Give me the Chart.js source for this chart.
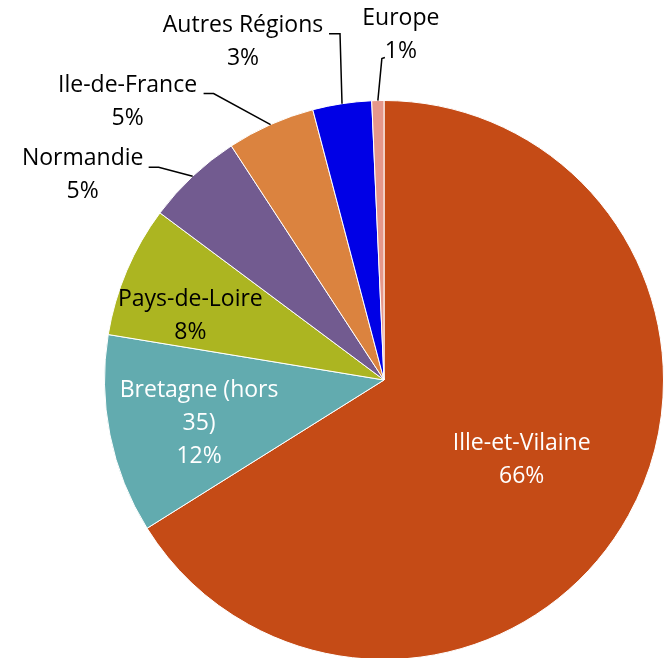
<!DOCTYPE html>
<html>
<head>
<meta charset="utf-8">
<script src="https://cdn.jsdelivr.net/npm/chart.js@4.4.0/dist/chart.umd.min.js"></script>
<style>
  html, body { margin: 0; padding: 0; background: #fff; overflow: hidden; }
  #wrap { width: 671px; height: 700px; }
</style>
</head>
<body>
<div id="wrap"><canvas id="pieChart" width="671" height="700"></canvas></div>
<script>
// data (percent of total)
const regions = ['Ille-et-Vilaine', 'Bretagne (hors 35)', 'Pays-de-Loire', 'Normandie', 'Ile-de-France', 'Autres Régions', 'Europe'];
const shares = [66.1, 11.5, 7.6, 5.6, 5.1, 3.4, 0.7];
const shownPct = ['66%', '12%', '8%', '5%', '5%', '3%', '1%'];
const labelLines = [['Ille-et-Vilaine'], ['Bretagne (hors', '35)'], ['Pays-de-Loire'], ['Normandie'], ['Ile-de-France'], ['Autres Régions'], ['Europe']];

const sliceColors = ['#C54B16', '#62ABAF', '#ACB521', '#725B90', '#DB833F', '#0000E6', '#E5978A'];

// label placement: inside = fraction of radius along mid angle (+ turn in degrees),
// outside = offsets from the arc edge (text centre, elbow, line end)
const labelStyle = [
  { inside: 0.57, turn: 1.2, color: '#fff' },
  { inside: 0.68, turn: -2, color: '#fff' },
  { inside: 0.73, turn: -4.7, color: '#000' },
  { text: [-110, -1], elbow: [-34, -9], end: [-44, -9] },
  { text: [-143, -23], elbow: [-57, -31], end: [-67, -31] },
  { text: [-99, -62], elbow: [-2, -70], end: [-13, -70] },
  { text: [23, -66], elbow: [4, -42], end: [7, -43] }
];

const FONT = '23px "Open Sans"';
const LINE_H = 33;

const pieLabels = {
  id: 'pieLabels',
  afterDatasetsDraw(chart) {
    const ctx = chart.ctx;
    const arcs = chart.getDatasetMeta(0).data;
    ctx.save();
    ctx.font = FONT;
    ctx.textAlign = 'center';
    ctx.textBaseline = 'middle';
    arcs.forEach((arc, i) => {
      const st = labelStyle[i];
      const mid = (arc.startAngle + arc.endAngle) / 2;
      const lines = labelLines[i].concat([shownPct[i]]);
      let cx, cy;
      if (st.inside) {
        const a = mid + st.turn * Math.PI / 180;
        cx = arc.x + Math.cos(a) * arc.outerRadius * st.inside;
        cy = arc.y + Math.sin(a) * arc.outerRadius * st.inside;
        ctx.fillStyle = st.color;
      } else {
        const ex = arc.x + Math.cos(mid) * arc.outerRadius;
        const ey = arc.y + Math.sin(mid) * arc.outerRadius;
        ctx.strokeStyle = '#000';
        ctx.lineWidth = 1.5;
        ctx.beginPath();
        ctx.moveTo(ex, ey);
        ctx.lineTo(ex + st.elbow[0], ey + st.elbow[1]);
        ctx.lineTo(ex + st.end[0], ey + st.end[1]);
        ctx.stroke();
        cx = ex + st.text[0];
        cy = ey + st.text[1];
        ctx.fillStyle = '#000';
      }
      const top = cy - (lines.length - 1) * LINE_H / 2;
      lines.forEach((t, k) => ctx.fillText(t, cx, top + k * LINE_H));
    });
    ctx.restore();
  }
};

new Chart(document.getElementById('pieChart'), {
  type: 'pie',
  data: {
    labels: regions,
    datasets: [{
      data: shares,
      backgroundColor: sliceColors,
      borderColor: '#fff',
      borderWidth: 1
    }]
  },
  options: {
    responsive: false,
    animation: false,
    layout: { padding: { left: 104, right: 7, top: 100, bottom: 40 } },
    plugins: {
      legend: { display: false },
      tooltip: { enabled: false }
    }
  },
  plugins: [pieLabels]
});
</script>
</body>
</html>
